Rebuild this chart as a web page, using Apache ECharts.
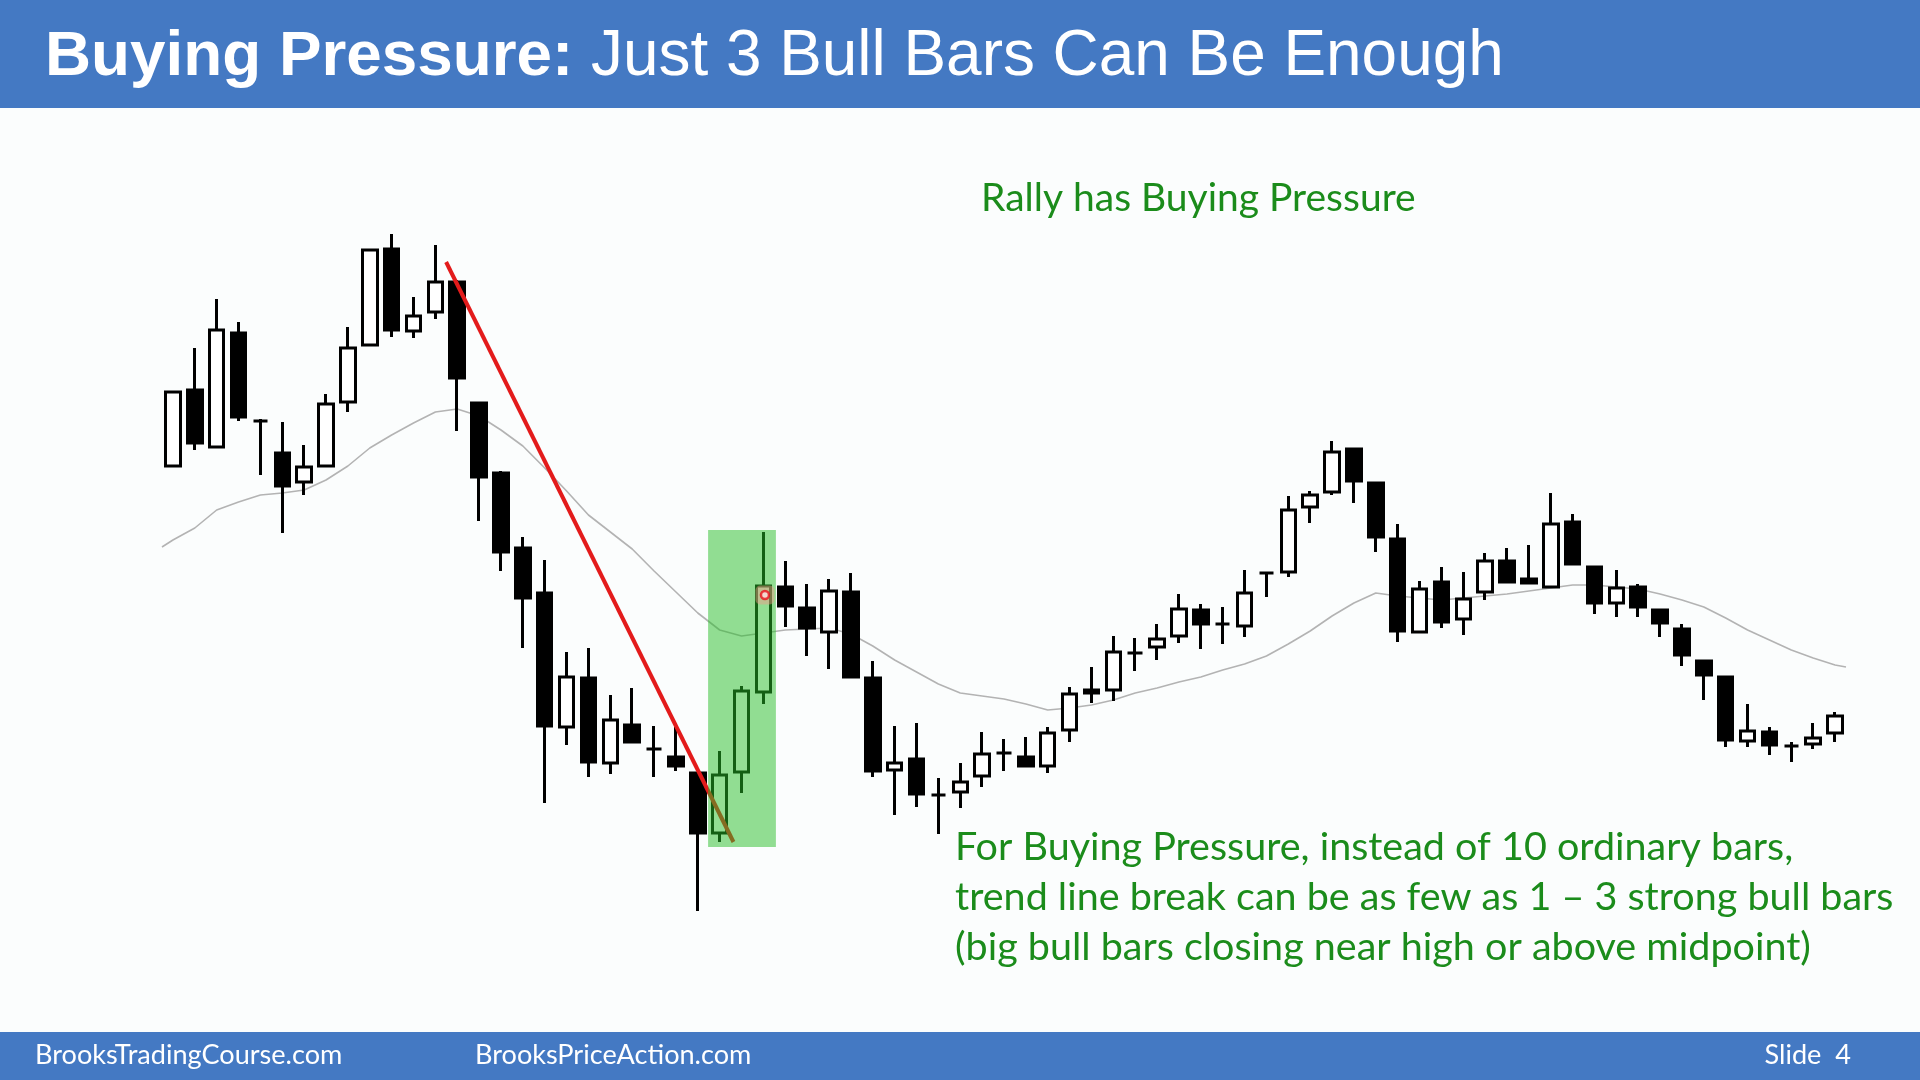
<!DOCTYPE html>
<html>
<head>
<meta charset="utf-8">
<script src="https://cdn.jsdelivr.net/npm/echarts@6/dist/echarts.min.js"></script>
<style>
html,body{margin:0;padding:0;background:#fbfdfd;}
#chart{width:1920px;height:1080px;}
</style>
</head>
<body>
<div id="chart"></div>
<script>
// ---- data (price units) ----
const barLabels = Array.from({length: 77}, (_, i) => String(i + 1));
const opens = [614,690,633,747,659,627,598,614,678,735,
  831,749,768,798,677,607,532,487,353,402,
  317,355,331,323,307,247,308,388,493,472,
  448,488,402,310,321,285,288,304,327,323,
  314,350,390,390,427,433,444,470,456,454,
  507,508,573,588,631,597,541,448,498,461,
  488,519,501,493,558,513,477,493,470,451,
  419,403,339,348,334,336,347];
const closes = [688,637,750,663,659,594,613,676,732,830,
  750,764,798,702,603,528,482,354,403,318,
  360,338,331,314,247,305,389,494,474,452,
  489,403,309,317,286,285,298,326,327,314,
  347,386,387,428,427,441,471,456,456,487,
  507,570,585,628,599,543,449,491,458,481,
  519,498,497,556,516,477,492,473,457,425,
  405,340,349,335,334,342,364];
const lows = [614,630,633,659,605,547,585,613,668,735,
  743,742,761,649,559,509,432,277,335,303,
  306,338,303,309,169,238,287,376,453,424,
  411,403,303,265,273,246,272,293,309,314,
  307,338,377,379,409,420,437,431,436,443,
  483,503,557,585,577,528,438,448,452,445,
  480,498,497,492,516,466,463,463,443,414,
  380,333,333,325,318,331,338];
const highs = [688,732,781,758,661,658,635,686,753,830,
  846,783,835,800,678,609,543,520,428,432,
  385,392,354,353,307,329,394,548,519,496,
  501,507,419,354,357,302,317,348,341,343,
  353,393,413,444,442,456,486,476,473,510,
  508,584,589,639,631,597,556,499,513,508,
  527,532,535,587,566,513,510,496,470,456,
  419,403,376,353,338,357,368];
const maValues = [540,552,570,578,585,587,590,600,614,632,
  645,657,668,671,664,650,634,612,589,565,
  548,531,509,488,467,450,444,447,450,451,
  452,446,434,420,408,396,387,384,381,376,
  370,372,375,380,387,392,398,403,410,416,
  424,436,449,464,477,487,484,482,480,482,
  484,486,489,492,495,495,493,491,486,480,
  473,462,450,440,430,422,415];
const maEdges = [533, 413];               // MA at left and right chart edges
const trendLine = [[12.49, 818], [25.63, 238]]; // [bar position, price]
const highlightBox = [24.47, 550, 27.57, 233];  // [bar from, price top, bar to, price bottom]
const entryMark = [27.07, 485];

const titleBold = 'Buying Pressure:';
const titleRest = 'Just 3 Bull Bars Can Be Enough';
const rallyText = 'Rally has Buying Pressure';
const noteLines = [
  'For Buying Pressure, instead of 10 ordinary bars,',
  'trend line break can be as few as 1 \u2013 3 strong bull bars',
  '(big bull bars closing near high or above midpoint)'
];
const footerLeft = 'BrooksTradingCourse.com';
const footerMid = 'BrooksPriceAction.com';
const footerRight = 'Slide  4';

// ---- build ----
const N = barLabels.length;
const candles = barLabels.map((_, i) => [opens[i], closes[i], lows[i], highs[i]]);
const maData = [[-0.5, maEdges[0]]].concat(maValues.map((v, i) => [i, v])).concat([[N - 0.5, maEdges[1]]]);

const meas = document.createElement('canvas').getContext('2d');
function fit(text, weight, family, width) {
  meas.font = weight + ' 100px ' + family;
  return 100 * width / meas.measureText(text).width;
}
const GF = 'Lato';
const greenTargets = [835, 934, 864.5];
let gs = 0;
noteLines.forEach((t, i) => { gs += fit(t, 'normal', GF, greenTargets[i]); });
gs = gs / noteLines.length;
const rallySize = fit(rallyText, 'normal', GF, 434.5);
const footSize = (fit(footerLeft, 'normal', GF, 311) + fit(footerMid, 'normal', GF, 273)) / 2;
const titleSizeB = fit(titleBold, 'bold', '"Liberation Sans"', 528);
const titleSizeR = fit(titleRest, 'normal', '"Liberation Sans"', 913);

const green = '#1b8c1b';
const blue = '#4479c3';

const chart = echarts.init(document.getElementById('chart'), null, {renderer: 'canvas'});
const option = {
  animation: false,
  backgroundColor: '#fbfdfd',
  grid: {left: 162, right: 74, top: 0, bottom: 0, containLabel: false},
  xAxis: [
    {type: 'category', data: barLabels, show: false, boundaryGap: true},
    {type: 'value', min: -0.5, max: N - 0.5, show: false}
  ],
  yAxis: {type: 'value', min: 0, max: 1080, show: false, splitLine: {show: false}},
  series: [
    {
      type: 'line', xAxisIndex: 1, data: maData, symbol: 'none', smooth: false,
      lineStyle: {color: '#b3b3b3', width: 1.6}, z: 1, silent: true
    },
    {
      type: 'candlestick', xAxisIndex: 0, data: candles, barWidth: 15, z: 2,
      itemStyle: {
        color: '#ffffff', color0: '#000000',
        borderColor: '#000000', borderColor0: '#000000', borderColorDoji: '#000000',
        borderWidth: 3
      }
    },
    {
      type: 'line', xAxisIndex: 1, data: trendLine, symbol: 'none',
      lineStyle: {color: '#e31b1b', width: 4}, z: 3, silent: true
    },
    {
      type: 'custom', xAxisIndex: 1, z: 4, silent: true,
      data: [highlightBox],
      encode: {x: [0, 2], y: [1, 3]},
      renderItem: function (params, api) {
        const p1 = api.coord([api.value(0), api.value(1)]);
        const p2 = api.coord([api.value(2), api.value(3)]);
        return {
          type: 'rect',
          shape: {x: p1[0], y: p1[1], width: p2[0] - p1[0], height: p2[1] - p1[1]},
          style: {fill: 'rgba(40,190,40,0.5)'}
        };
      }
    },
    {
      type: 'scatter', xAxisIndex: 1, z: 5, silent: true, data: [entryMark],
      symbol: 'roundRect', symbolSize: 19,
      itemStyle: {color: 'rgba(250,150,140,0.55)'}
    },
    {
      type: 'scatter', xAxisIndex: 1, z: 6, silent: true, data: [entryMark],
      symbol: 'circle', symbolSize: 8,
      itemStyle: {color: '#ffe0e0', borderColor: '#e8101a', borderWidth: 2.5}
    }
  ],
  graphic: [
    {type: 'rect', shape: {x: 0, y: 0, width: 1920, height: 108}, style: {fill: blue}, z: 0},
    {type: 'rect', shape: {x: 0, y: 1032, width: 1920, height: 48}, style: {fill: blue}, z: 0},
    {type: 'text', x: 45, y: 57, z: 10, style: {text: titleBold, fill: '#ffffff',
      font: 'bold ' + titleSizeB.toFixed(1) + 'px "Liberation Sans", Arial, sans-serif', verticalAlign: 'middle'}},
    {type: 'text', x: 591, y: 57, z: 10, style: {text: titleRest, fill: '#ffffff',
      font: titleSizeR.toFixed(1) + 'px "Liberation Sans", Arial, sans-serif', verticalAlign: 'middle'}},
    {type: 'text', x: 981, y: 198, z: 10, style: {text: rallyText, fill: green,
      font: rallySize.toFixed(1) + 'px ' + GF, verticalAlign: 'middle'}},
    {type: 'text', x: 955, y: 847, z: 10, style: {text: noteLines[0], fill: green,
      font: gs.toFixed(1) + 'px ' + GF, verticalAlign: 'middle'}},
    {type: 'text', x: 955, y: 897, z: 10, style: {text: noteLines[1], fill: green,
      font: gs.toFixed(1) + 'px ' + GF, verticalAlign: 'middle'}},
    {type: 'text', x: 955, y: 947, z: 10, style: {text: noteLines[2], fill: green,
      font: gs.toFixed(1) + 'px ' + GF, verticalAlign: 'middle'}},
    {type: 'text', x: 35, y: 1055, z: 10, style: {text: footerLeft, fill: '#ffffff',
      font: footSize.toFixed(1) + 'px ' + GF, verticalAlign: 'middle'}},
    {type: 'text', x: 475, y: 1055, z: 10, style: {text: footerMid, fill: '#ffffff',
      font: footSize.toFixed(1) + 'px ' + GF, verticalAlign: 'middle'}},
    {type: 'text', x: 1851, y: 1055, z: 10, style: {text: footerRight, fill: '#ffffff',
      font: footSize.toFixed(1) + 'px ' + GF, verticalAlign: 'middle', align: 'right'}}
  ]
};
chart.setOption(option);
</script>
</body>
</html>
